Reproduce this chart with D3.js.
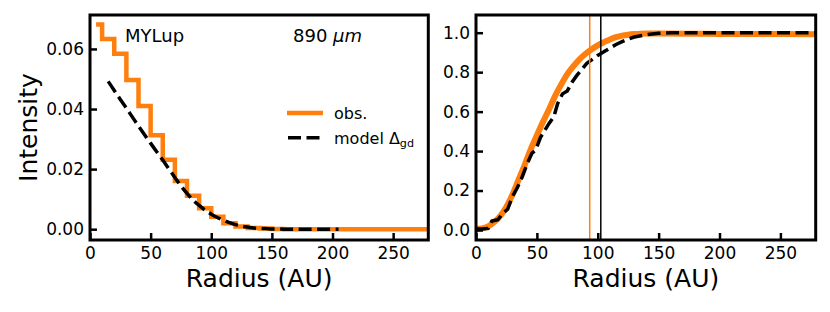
<!DOCTYPE html>
<html>
<head>
<meta charset="utf-8">
<script src="https://cdn.jsdelivr.net/npm/d3@7"></script>
<style>
    body { margin: 0; background: #fff; }
    text { font-family: "DejaVu Sans", sans-serif; fill: #000; }
    .obs { fill: none; stroke: #ff7f0e; }
    .model { fill: none; stroke: #000; stroke-dasharray: 13, 5.5; stroke-width: 3.5; }
    .frame { fill: none; stroke: #000; stroke-width: 3; }
    .tick line { stroke: #000; stroke-width: 2.5; }
    .tick text { font-size: 17px; }
</style>
</head>
<body>
<svg id="chart" width="830" height="312"></svg>
<script>
// left panel: radial intensity profile (obs. is a steps-mid histogram)
var obsRadius = [5, 15, 25, 35, 45, 55, 65, 75, 85, 95, 105, 115, 125, 135, 145, 155, 165, 175, 185, 195,
    205, 215, 225, 235, 245, 255, 265, 275, 285];
var obsIntensity = [0.0681, 0.0633, 0.0584, 0.0497, 0.0410, 0.0313, 0.0231, 0.0160, 0.0111, 0.0070,
    0.0041, 0.0020, 0.0009, 0.0004, 0.0002, 0.0001, 0, 0, 0, 0,
    0, 0, 0, 0, 0, 0, 0, 0, 0];

var modelRadius = [15, 20, 25, 30, 35, 40, 45, 50, 55, 60, 65, 70, 75, 80, 85, 90, 95, 100, 105, 110,
    115, 120, 125, 130, 135, 140, 145, 150, 155, 160, 170, 180, 190, 205];
var modelIntensity = [0.0492, 0.0462, 0.0432, 0.0403, 0.0373, 0.0343, 0.0314, 0.0286, 0.0258, 0.0230,
    0.0201, 0.0172, 0.0144, 0.0119, 0.0097, 0.0079, 0.0063, 0.0050, 0.0039, 0.0030,
    0.0022, 0.0015, 0.0010, 0.0007, 0.0004, 0.0003, 0.0002, 0.0001, 0.0001, 0, 0, 0, 0, 0];

// right panel: cumulative (normalised) flux
var cumObsRadius = [0, 5, 10, 15, 20, 25, 30, 35, 40, 45, 50, 55, 60, 65, 70, 75, 80, 85, 90, 95,
    100, 105, 110, 115, 120, 125, 130, 135, 140, 150, 175, 200, 225, 250, 280];
var cumObs = [0.005, 0.008, 0.018, 0.040, 0.072, 0.118, 0.180, 0.255, 0.330, 0.410, 0.480, 0.548, 0.612, 0.680, 0.738, 0.790, 0.830, 0.865, 0.893, 0.916,
    0.936, 0.952, 0.966, 0.977, 0.985, 0.990, 0.993, 0.995, 0.996, 0.996, 0.995, 0.994, 0.993, 0.993, 0.992];

var cumModelRadius = [0, 5, 10, 13, 18, 22, 26, 30, 34, 38, 42, 46, 49, 53, 56, 60, 64, 67, 71, 75,
    79, 83, 87, 91, 95, 100, 105, 110, 115, 120, 125, 130, 140, 150, 160, 200, 240, 280];
var cumModel = [0.005, 0.005, 0.008, 0.045, 0.052, 0.085, 0.105, 0.170, 0.215, 0.270, 0.335, 0.390, 0.405, 0.470, 0.500, 0.540, 0.575, 0.640, 0.690, 0.705,
    0.750, 0.785, 0.815, 0.845, 0.862, 0.885, 0.903, 0.922, 0.940, 0.955, 0.968, 0.978, 0.990, 0.997, 1.0, 1.0, 1.0, 1.0];

// radii enclosing the flux fraction (vertical markers)
var obsMarker = 93.4;
var modelMarker = 102.5;

var xTicks = [0, 50, 100, 150, 200, 250];
var leftYTicks = [0, 0.02, 0.04, 0.06];
var rightYTicks = [0, 0.2, 0.4, 0.6, 0.8, 1.0];

var svg = d3.select("#chart");

// note: "top" is taken by window.top, so use other names
var plotTop = 15, plotBottom = 240;

function makePanel(id, left, right, yDomain, yTicks, yFormat) {
    var x = d3.scaleLinear().domain([0, 279]).range([left, right]);
    var y = d3.scaleLinear().domain(yDomain).range([plotBottom, plotTop]);

    svg.append("clipPath").attr("id", id)
        .append("rect")
        .attr("x", left).attr("y", plotTop)
        .attr("width", right - left).attr("height", plotBottom - plotTop);

    var g = svg.append("g");
    var plot = g.append("g").attr("clip-path", "url(#" + id + ")");

    // ticks point inward
    g.append("g")
        .attr("transform", "translate(0," + plotBottom + ")")
        .call(d3.axisBottom(x).tickValues(xTicks).tickSizeInner(-7).tickSizeOuter(0).tickPadding(7.4))
        .call(function (a) { a.select(".domain").remove(); });

    g.append("g")
        .attr("transform", "translate(" + left + ",0)")
        .call(d3.axisLeft(y).tickValues(yTicks).tickFormat(d3.format(yFormat)).tickSizeInner(-7).tickSizeOuter(0).tickPadding(6))
        .call(function (a) { a.select(".domain").remove(); });

    g.selectAll(".tick text").attr("font-family", "DejaVu Sans").attr("font-size", 17);

    g.append("text")
        .attr("x", (left + right) / 2).attr("y", 287)
        .attr("text-anchor", "middle")
        .attr("font-size", 25)
        .text("Radius (AU)");

    return { x: x, y: y, g: g, plot: plot, left: left, right: right };
}

// ---- left panel ----
var L = makePanel("clipL", 90, 428.3, [-0.0036, 0.0713], leftYTicks, ".2f");

var stepLine = d3.line()
    .x(function (d) { return L.x(d[0]); })
    .y(function (d) { return L.y(d[1]); })
    .curve(d3.curveStep);

var smoothLeft = d3.line()
    .x(function (d) { return L.x(d[0]); })
    .y(function (d) { return L.y(d[1]); })
    .curve(d3.curveMonotoneX);

L.plot.append("path")
    .datum(d3.zip(obsRadius, obsIntensity))
    .attr("class", "obs")
    .attr("stroke-width", 4.5)
    .attr("d", stepLine);

L.plot.append("path")
    .datum(d3.zip(modelRadius, modelIntensity))
    .attr("class", "model")
    .attr("d", smoothLeft);

L.g.append("text")
    .attr("x", 125).attr("y", 42)
    .attr("font-size", 18)
    .text("MYLup");

var wl = L.g.append("text")
    .attr("x", 293).attr("y", 42)
    .attr("font-size", 18);
wl.append("tspan").text("890 ");
wl.append("tspan").attr("font-style", "italic").text("μm");

L.g.append("text")
    .attr("transform", "translate(36.5," + ((plotTop + plotBottom) / 2) + ") rotate(-90)")
    .attr("x", 0).attr("y", 0)
    .attr("text-anchor", "middle")
    .attr("font-size", 25)
    .text("Intensity");

// legend
L.g.append("line")
    .attr("x1", 287).attr("x2", 323).attr("y1", 113).attr("y2", 113)
    .attr("class", "obs").attr("stroke-width", 4.5);
L.g.append("text").attr("x", 334).attr("y", 119).attr("font-size", 16).text("obs.");

L.g.append("line")
    .attr("x1", 288).attr("x2", 322).attr("y1", 137.7).attr("y2", 137.7)
    .attr("class", "model");
var lm = L.g.append("text").attr("x", 334).attr("y", 143.5).attr("font-size", 16);
lm.append("tspan").text("model Δ");
lm.append("tspan").attr("font-size", 11.2).attr("dy", 3.5).text("gd");

L.g.append("rect")
    .attr("class", "frame")
    .attr("x", 90).attr("y", plotTop)
    .attr("width", 428.3 - 90).attr("height", plotBottom - plotTop);

// ---- right panel ----
var R = makePanel("clipR", 476, 815.7, [-0.0507, 1.0897], rightYTicks, ".1f");

var smoothRight = d3.line()
    .x(function (d) { return R.x(d[0]); })
    .y(function (d) { return R.y(d[1]); })
    .curve(d3.curveMonotoneX);

var plainRight = d3.line()
    .x(function (d) { return R.x(d[0]); })
    .y(function (d) { return R.y(d[1]); });

R.plot.append("path")
    .datum(d3.zip(cumObsRadius, cumObs))
    .attr("class", "obs")
    .attr("stroke-width", 6)
    .attr("d", smoothRight);

R.plot.append("path")
    .datum(d3.zip(cumModelRadius, cumModel))
    .attr("class", "model")
    .attr("d", plainRight);

R.plot.append("line")
    .attr("x1", R.x(obsMarker)).attr("x2", R.x(obsMarker))
    .attr("y1", plotTop).attr("y2", plotBottom)
    .attr("stroke", "#ff7f0e").attr("stroke-width", 1.5);

R.plot.append("line")
    .attr("x1", R.x(modelMarker)).attr("x2", R.x(modelMarker))
    .attr("y1", plotTop).attr("y2", plotBottom)
    .attr("stroke", "#000").attr("stroke-width", 1.5);

R.g.append("rect")
    .attr("class", "frame")
    .attr("x", 476).attr("y", plotTop)
    .attr("width", 815.7 - 476).attr("height", plotBottom - plotTop);
</script>
</body>
</html>
